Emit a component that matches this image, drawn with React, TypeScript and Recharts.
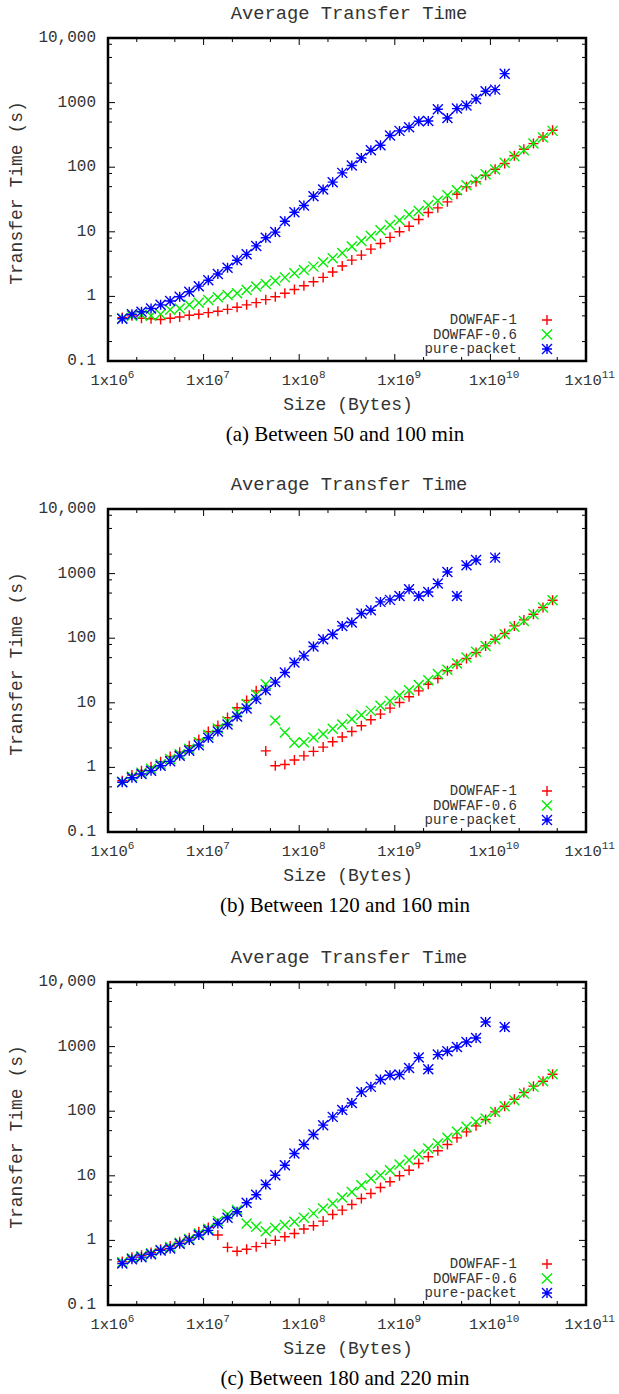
import React from 'react';
import { ScatterChart, Scatter, XAxis, YAxis, ReferenceArea, Legend } from 'recharts';

// Transfer sizes in bytes (log-spaced, one point per 0.1 decade)
const sizes = [
  1.41e6, 1.78e6, 2.24e6, 2.82e6, 3.55e6, 4.47e6, 5.62e6, 7.08e6, 8.91e6, 1.12e7,
  1.41e7, 1.78e7, 2.24e7, 2.82e7, 3.55e7, 4.47e7, 5.62e7, 7.08e7, 8.91e7, 1.12e8,
  1.41e8, 1.78e8, 2.24e8, 2.82e8, 3.55e8, 4.47e8, 5.62e8, 7.08e8, 8.91e8, 1.12e9,
  1.41e9, 1.78e9, 2.24e9, 2.82e9, 3.55e9, 4.47e9, 5.62e9, 7.08e9, 8.91e9, 1.12e10,
  1.41e10, 1.78e10, 2.24e10, 2.82e10, 3.55e10, 4.47e10,
];

// (a) Between 50 and 100 min
const aDowfaf1 = [
  0.47, 0.5, 0.46, 0.45, 0.44, 0.46, 0.48, 0.51, 0.53, 0.56,
  0.59, 0.63, 0.68, 0.74, 0.8, 0.89, 0.99, 1.12, 1.28, 1.46,
  1.69, 1.97, 2.38, 2.95, 3.65, 4.36, 5.4, 6.6, 8.2, 10,
  12.2, 15.5, 19.9, 23.5, 29.1, 38.2, 49.6, 59.3, 75.2, 93,
  114, 150, 190, 232, 294, 373,
];
const aDowfaf06 = [
  0.46, 0.5, 0.52, 0.5, 0.53, 0.62, 0.65, 0.74, 0.8, 0.88,
  0.97, 1.05, 1.12, 1.26, 1.42, 1.56, 1.75, 1.97, 2.28, 2.56,
  2.89, 3.37, 3.89, 4.7, 5.9, 7.2, 8.6, 10.6, 12.7, 15.1,
  18.5, 20.9, 25.8, 30.2, 36.9, 44.1, 52.7, 64.4, 78, 92,
  117, 148, 183, 232, 288, 365,
];
const aPurePacket = [
  0.45, 0.53, 0.58, 0.65, 0.74, 0.85, 0.99, 1.18, 1.44, 1.78,
  2.22, 2.77, 3.62, 4.48, 6.05, 8.07, 9.9, 14.6, 20.1, 25.5,
  35.6, 45.2, 58.7, 81.7, 106, 139, 183, 219, 309, 365,
  415, 514, 520, 789, 579, 808, 899, 1140, 1497, 1588,
  2804,
];

// (b) Between 120 and 160 min
const bDowfaf1 = [
  0.62, 0.76, 0.89, 1.02, 1.22, 1.48, 1.72, 2.16, 2.7, 3.58,
  4.45, 5.9, 8.4, 10.9, 15.3, 1.8, 1.06, 1.11, 1.3, 1.51,
  1.77, 2.06, 2.5, 2.95, 3.6, 4.41, 5.46, 6.68, 8.27, 10.1,
  12.4, 15.3, 19.4, 23.8, 31.3, 39.6, 48.5, 60, 76, 96.5,
  118, 155, 192, 235, 298, 387,
];
const bDowfaf06 = [
  0.6, 0.72, 0.83, 0.95, 1.12, 1.35, 1.6, 1.95, 2.45, 3.2,
  4.0, 5.2, 7.2, 9.6, 13.5, 19.4, 5.3, 3.48, 2.4, 2.45,
  2.9, 3.3, 3.95, 4.6, 5.6, 6.45, 7.5, 9.0, 10.7, 13.1,
  15.7, 18.8, 22.4, 27.8, 32.5, 40.6, 50.2, 61.5, 76, 96,
  115, 150, 185, 235, 298, 387,
];
const bPurePacket = [
  0.59, 0.69, 0.79, 0.89, 1.06, 1.24, 1.51, 1.81, 2.21, 2.88,
  3.6, 4.62, 6.15, 8.17, 11.4, 15.7, 20.9, 29.5, 42, 53.3,
  74.3, 96.5, 115, 155, 175, 241, 271, 365, 392, 451,
  572, 451, 520, 700, 1061, 451, 1345, 1626, null, 1767,
];

// (c) Between 180 and 220 min
const cDowfaf1 = [
  0.47, 0.55, 0.59, 0.65, 0.73, 0.82, 0.95, 1.1, 1.36, 1.59,
  1.21, 0.78, 0.68, 0.73, 0.8, 0.9, 1.0, 1.14, 1.28, 1.5,
  1.69, 1.99, 2.52, 2.94, 3.6, 4.46, 5.33, 6.6, 8.07, 10,
  12.2, 15.5, 19.7, 24.4, 30.5, 38.7, 47.9, 59.3, 74.3, 97.6,
  119, 153, 194, 244, 291, 373,
];
const cDowfaf06 = [
  0.46, 0.53, 0.57, 0.63, 0.71, 0.79, 0.92, 1.05, 1.28, 1.52,
  2.0, 2.55, 2.95, 1.83, 1.63, 1.38, 1.55, 1.73, 1.94, 2.24,
  2.62, 3.12, 3.73, 4.6, 5.6, 7.17, 9.09, 10.2, 12.2, 15.0,
  17.5, 21.4, 26.5, 31.6, 38.7, 47.9, 57.3, 68.4, 77, 97.6,
  119, 148, 188, 238, 291, 373,
];
const cPurePacket = [
  0.44, 0.51, 0.55, 0.61, 0.7, 0.75, 0.89, 1.01, 1.21, 1.43,
  1.83, 2.24, 2.78, 3.82, 5.1, 7.35, 10.2, 14.6, 22.1, 30.5,
  43.6, 60.8, 81.7, 104, 134, 199, 238, 309, 360, 369,
  468, 676, 446, 752, 847, 988, 1180, 1361, 2406, null,
  2014,
];

// Ticks
const xMajorTicks = [1e6, 1e7, 1e8, 1e9, 1e10, 1e11];
const xTickExponents = ['6', '7', '8', '9', '10', '11'];
const xMinorTicks = [2e6, 5e6, 2e7, 5e7, 2e8, 5e8, 2e9, 5e9, 2e10, 5e10];
const yMajorTicks = [0.1, 1, 10, 100, 1000, 10000];
const yTickLabels = ['0.1', '1', '10', '100', '1000', '10,000'];
const yMinorTicks = [0.2, 0.5, 0.8, 2, 5, 8, 20, 50, 80, 200, 500, 800, 2000, 5000, 8000];

const seriesNames = ['DOWFAF-1', 'DOWFAF-0.6', 'pure-packet'];
const seriesColors = ['#ff0000', '#00ee00', '#0000ff'];
const captions = ['(a) Between 50 and 100 min', '(b) Between 120 and 160 min', '(c) Between 180 and 220 min'];
const chartTitle = 'Average Transfer Time';

// Layout
const MONO = "'Liberation Mono', 'DejaVu Sans Mono', monospace";
const SERIF = "'Liberation Serif', 'DejaVu Serif', serif";
const CHART_W = 619;
const CHART_H = 420;
const PLOT_LEFT = 108;
const PLOT_RIGHT = 586;
const PLOT_TOP = 38;
const PLOT_BOTTOM = 361;
const PANEL_TOPS = [0, 471, 944];
const TEXT = '#333';

const panels = [
  { caption: captions[0], series: [aDowfaf1, aDowfaf06, aPurePacket] },
  { caption: captions[1], series: [bDowfaf1, bDowfaf06, bPurePacket] },
  { caption: captions[2], series: [cDowfaf1, cDowfaf06, cPurePacket] },
];

const toPoints = (values: (number | null)[]) =>
  values
    .map((v, i) => (v == null ? null : { x: sizes[i], y: v }))
    .filter((p) => p !== null) as { x: number; y: number }[];

const R = 5;
const markPath = (kind: number, cx: number, cy: number) => {
  const plus = `M${cx - R},${cy}H${cx + R}M${cx},${cy - R}V${cy + R}`;
  const cross = `M${cx - R},${cy - R}L${cx + R},${cy + R}M${cx - R},${cy + R}L${cx + R},${cy - R}`;
  if (kind === 0) return plus;
  if (kind === 1) return cross;
  return plus + cross;
};

const makeShape = (kind: number) => (props: any) => {
  const { cx, cy } = props;
  if (cx == null || cy == null) return <g />;
  return (
    <path d={markPath(kind, cx, cy)} stroke={seriesColors[kind]} strokeWidth={1.4} fill="none" />
  );
};

const XTick = (props: any) => {
  const { x, payload } = props;
  const v = payload.value;
  const mi = xMajorTicks.indexOf(v);
  const len = mi >= 0 ? 7 : 4;
  const exp = mi >= 0 ? xTickExponents[mi] : '';
  return (
    <g>
      <line x1={x} x2={x} y1={PLOT_BOTTOM} y2={PLOT_BOTTOM - len} stroke="#000" strokeWidth={1} />
      <line x1={x} x2={x} y1={PLOT_TOP} y2={PLOT_TOP + len} stroke="#000" strokeWidth={1} />
      {mi >= 0 && (
        <text
          x={x - (exp.length > 1 ? 21.5 : 17.5)}
          y={PLOT_BOTTOM + 24}
          fontFamily={MONO}
          fontSize={15.5}
          fill={TEXT}
        >
          1x10
          <tspan dy={-7} fontSize={11}>
            {exp}
          </tspan>
        </text>
      )}
    </g>
  );
};

const YTick = (props: any) => {
  const { y, payload } = props;
  const v = payload.value;
  const mi = yMajorTicks.indexOf(v);
  const len = mi >= 0 ? 7 : 4;
  return (
    <g>
      <line x1={PLOT_LEFT} x2={PLOT_LEFT + len} y1={y} y2={y} stroke="#000" strokeWidth={1} />
      <line x1={PLOT_RIGHT} x2={PLOT_RIGHT - len} y1={y} y2={y} stroke="#000" strokeWidth={1} />
      {mi >= 0 && (
        <text
          x={96}
          y={y}
          textAnchor="end"
          dominantBaseline="central"
          fontFamily={MONO}
          fontSize={16}
          fill={TEXT}
        >
          {yTickLabels[mi]}
        </text>
      )}
    </g>
  );
};

const xAxisLabel = () => (
  <text x={348} y={410} textAnchor="middle" fontFamily={MONO} fontSize={18} fill={TEXT}>
    Size (Bytes)
  </text>
);

const yAxisLabel = () => (
  <text
    x={17}
    y={193}
    textAnchor="middle"
    dominantBaseline="central"
    transform="rotate(-90,17,193)"
    fontFamily={MONO}
    fontSize={18}
    fill={TEXT}
  >
    Transfer Time (s)
  </text>
);

const LegendBox = () => (
  <svg width={170} height={60} style={{ display: 'block' }}>
    {seriesNames.map((name, i) => {
      const cy = 20 + i * 14.5;
      return (
        <g key={name}>
          <text
            x={117}
            y={cy}
            textAnchor="end"
            dominantBaseline="central"
            fontFamily={MONO}
            fontSize={14}
            fill={TEXT}
          >
            {name}
          </text>
          <path d={markPath(i, 147, cy)} stroke={seriesColors[i]} strokeWidth={1.4} fill="none" />
        </g>
      );
    })}
  </svg>
);

const Panel = ({ caption, series }: { caption: string; series: (number | null)[][] }) => (
  <div style={{ position: 'relative', width: CHART_W, height: 471 }}>
    <svg
      width={CHART_W}
      height={471}
      style={{ position: 'absolute', left: 0, top: 0, pointerEvents: 'none' }}
    >
      <text x={349} y={19} textAnchor="middle" fontFamily={MONO} fontSize={18.8} fill={TEXT}>
        {chartTitle}
      </text>
      <text x={345} y={441} textAnchor="middle" fontFamily={SERIF} fontSize={21} fill="#000">
        {caption}
      </text>
    </svg>
    <div style={{ position: 'absolute', left: 0, top: 0 }}>
      <ScatterChart
        width={CHART_W}
        height={CHART_H}
        margin={{ top: PLOT_TOP, right: CHART_W - PLOT_RIGHT, bottom: 0, left: 0 }}
      >
        <XAxis
          type="number"
          dataKey="x"
          scale="log"
          domain={[1e6, 1e11]}
          allowDataOverflow
          ticks={[...xMajorTicks, ...xMinorTicks]}
          interval={0}
          tick={<XTick />}
          tickLine={false}
          axisLine={false}
          height={CHART_H - PLOT_BOTTOM}
          label={xAxisLabel}
        />
        <YAxis
          type="number"
          dataKey="y"
          scale="log"
          domain={[0.1, 10000]}
          allowDataOverflow
          ticks={[...yMajorTicks, ...yMinorTicks]}
          interval={0}
          tick={<YTick />}
          tickLine={false}
          axisLine={false}
          width={PLOT_LEFT}
          label={yAxisLabel}
        />
        <ReferenceArea
          x1={1e6}
          x2={1e11}
          y1={0.1}
          y2={10000}
          fill="none"
          fillOpacity={0}
          stroke="#000"
          strokeWidth={2.5}
          ifOverflow="visible"
        />
        {series.map((vals, i) => (
          <Scatter
            key={seriesNames[i]}
            name={seriesNames[i]}
            data={toPoints(vals)}
            fill={seriesColors[i]}
            shape={makeShape(i)}
            isAnimationActive={false}
          />
        ))}
        <Legend
          layout="horizontal"
          verticalAlign="middle"
          align="center"
          wrapperStyle={{ left: 400, top: 300, width: 170, height: 60 }}
          content={() => <LegendBox />}
        />
      </ScatterChart>
    </div>
  </div>
);

export default function App() {
  return (
    <div
      style={{
        position: 'absolute',
        left: 0,
        top: 0,
        width: CHART_W,
        height: 1394,
        background: '#fff',
        overflow: 'hidden',
      }}
    >
      {panels.map((p, i) => (
        <div key={i} style={{ position: 'absolute', left: 0, top: PANEL_TOPS[i] }}>
          <Panel caption={p.caption} series={p.series} />
        </div>
      ))}
    </div>
  );
}
